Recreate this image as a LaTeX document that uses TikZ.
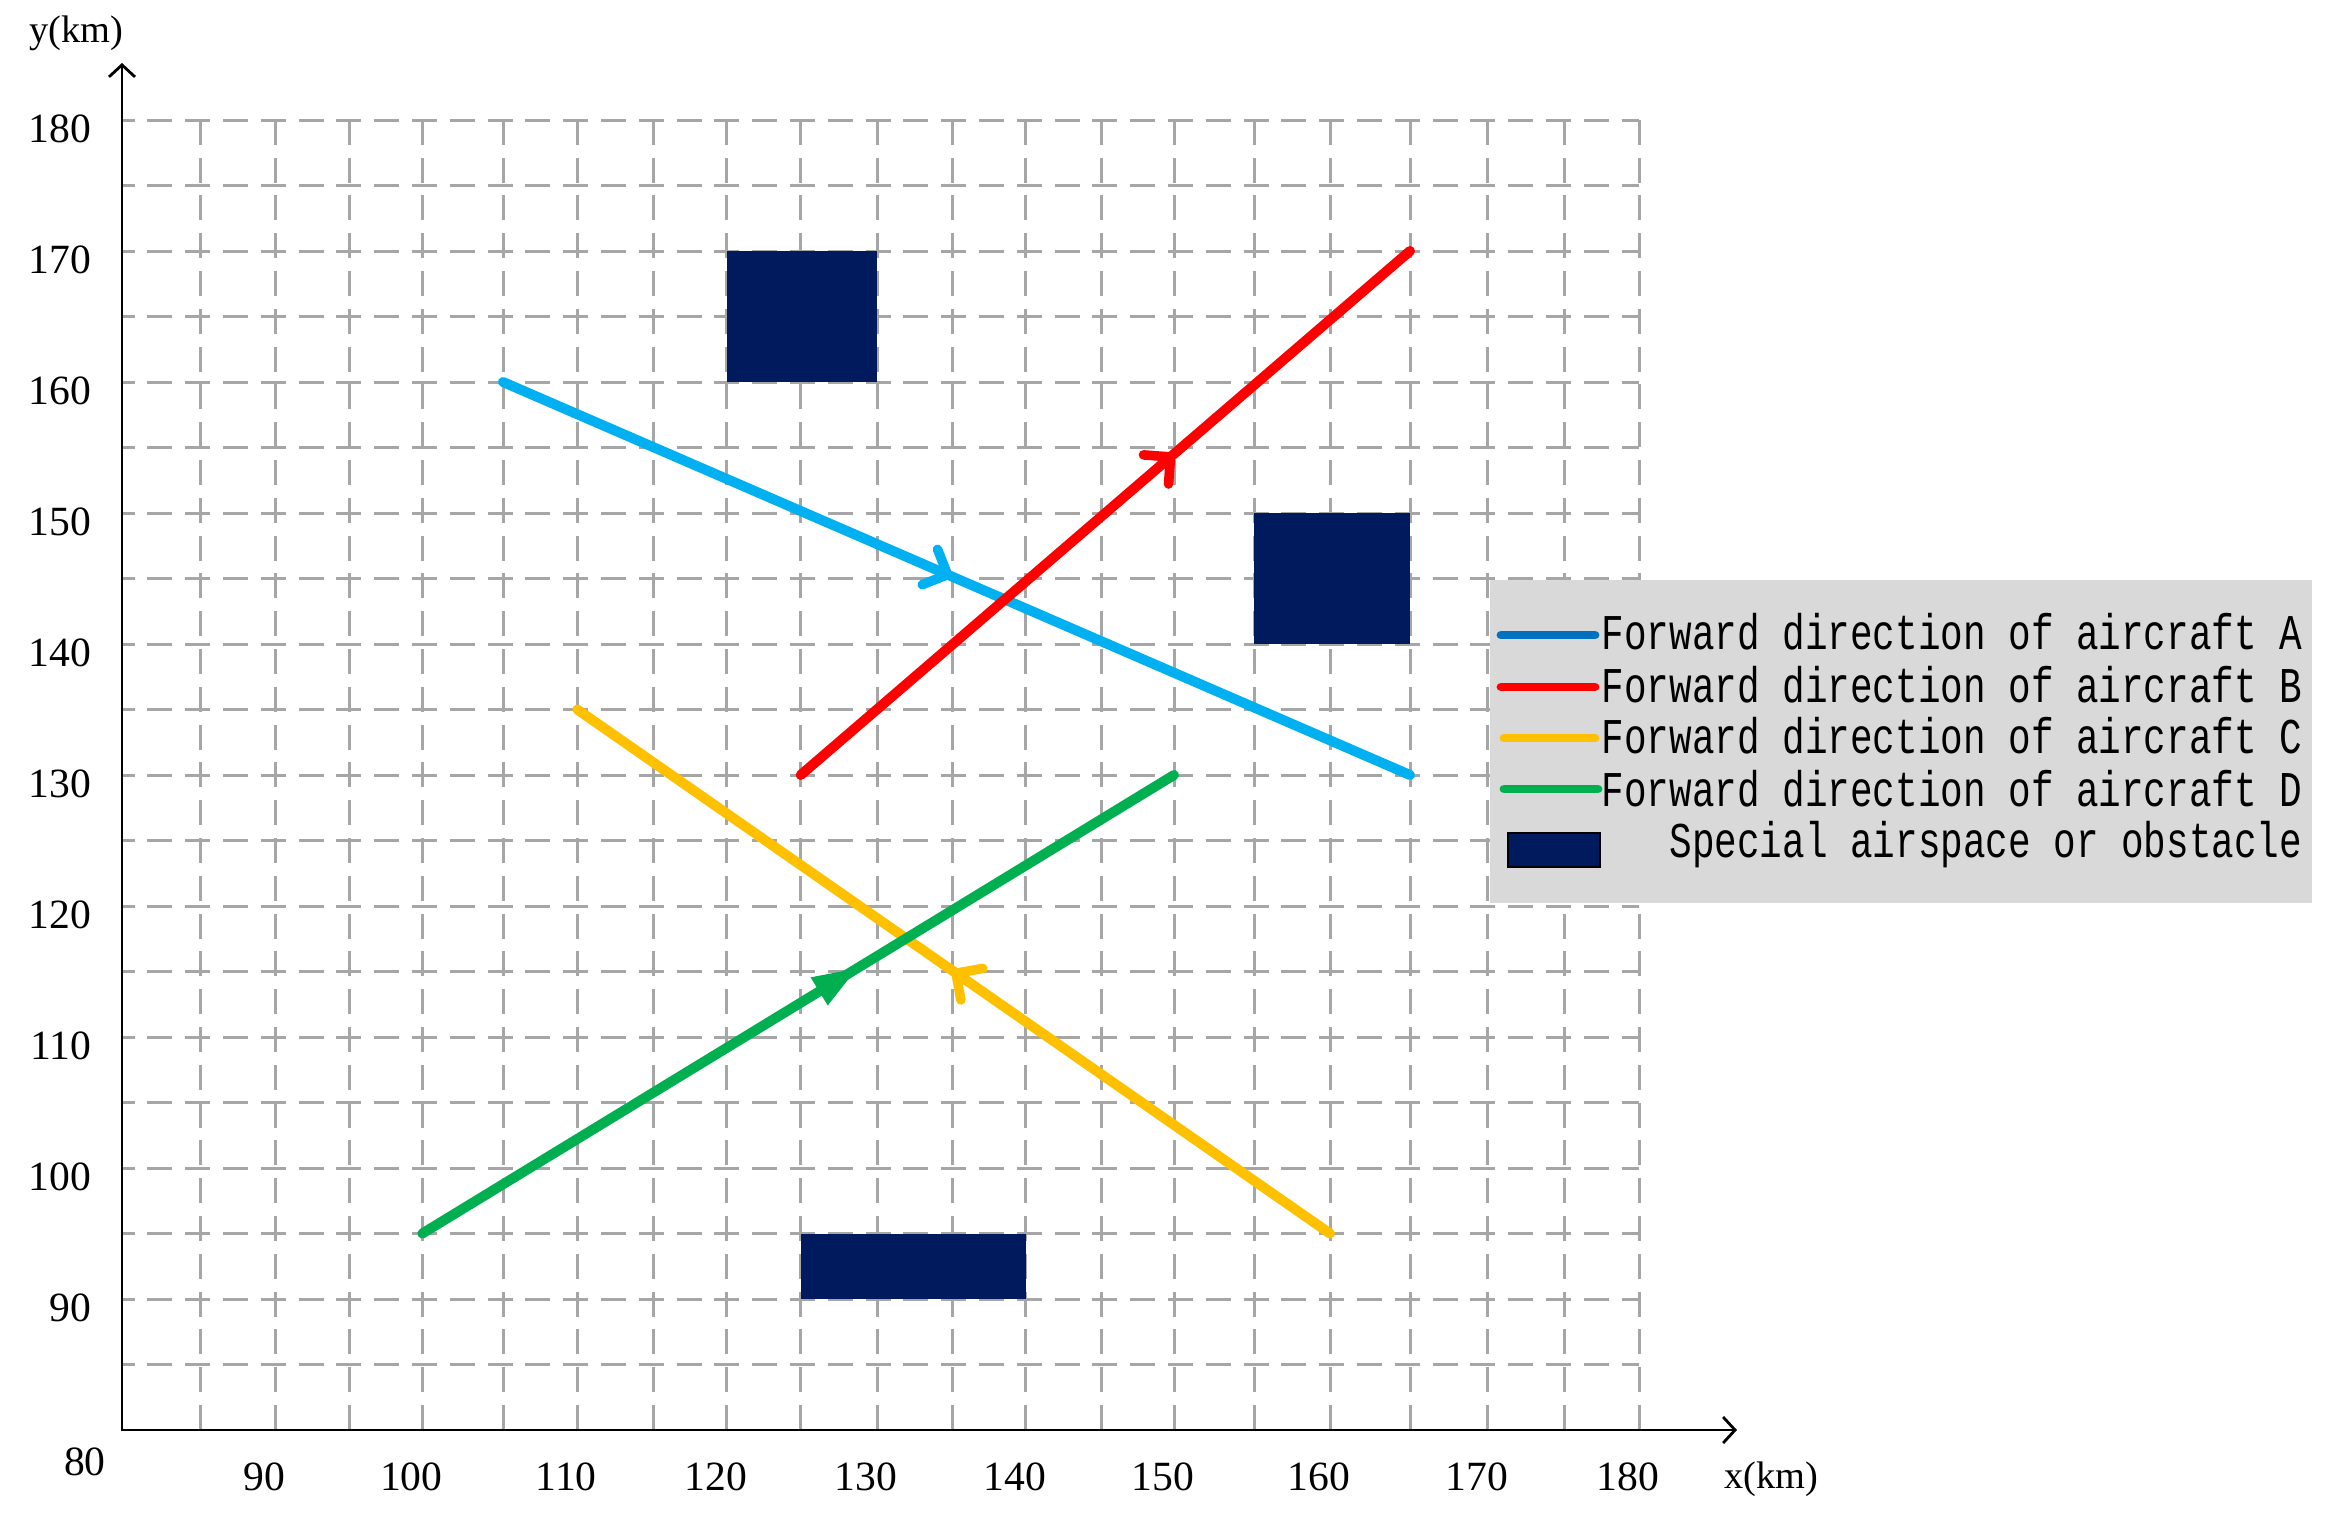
\documentclass[tikz,border=0pt]{standalone}
\usepackage{fontspec}
\setmainfont{Liberation Serif}
\newfontfamily\legfont[FakeStretch=0.753]{Liberation Mono}
\usetikzlibrary{arrows.meta,decorations.markings}
\definecolor{gridgray}{HTML}{A6A6A6}
\definecolor{acA}{HTML}{00B0F0}
\definecolor{acAleg}{HTML}{0070C0}
\definecolor{acB}{HTML}{FF0000}
\definecolor{acC}{HTML}{FFC000}
\definecolor{acD}{HTML}{00B050}
\definecolor{obst}{HTML}{001A5E}
\definecolor{legbg}{HTML}{D9D9D9}
\begin{document}
\begin{tikzpicture}[x=0.25pt,y=-0.25pt,
  hgrid/.style={draw=gridgray, line width=0.75pt, dash pattern=on 6.25pt off 3.2pt, dash phase=3.125pt},
  vgrid/.style={draw=gridgray, line width=0.75pt, dash pattern=on 6.25pt off 3.2pt},
  axisline/.style={draw=black, line width=0.7pt},
  route/.style={line width=2.5pt, line cap=round},
  legline/.style={line width=2.2pt, line cap=round},
  ticklab/.style={font=\fontsize{10.4pt}{12pt}\selectfont, inner sep=0pt},
  axtitle/.style={font=\fontsize{9.6pt}{11pt}\selectfont, inner sep=0pt},
  legtext/.style={font=\legfont\fontsize{12.5pt}{14pt}\selectfont, inner sep=0pt},
  barbat/.style={postaction={decorate, decoration={markings, mark=at position #1 with {\arrow[line width=2.4pt]{Straight Barb[round,length=4.8pt,width=9.6pt]}}}}},
  triat/.style={postaction={decorate, decoration={markings, mark=at position #1 with {\arrow[line width=0.5pt]{Triangle[length=11pt,width=8.1pt]}}}}}
]
\useasboundingbox (0,0) rectangle (2328,1524);
% grid positions (x positions follow the reference's slightly uneven grid)
\coordinate (gx80) at (122,1430);
\foreach \u/\p in {85/200, 90/275.7, 95/349, 100/422.3, 105/503, 110/577.3,
  115/653.3, 120/726.7, 125/800.7, 130/877, 135/952.3, 140/1025.7, 145/1101.7,
  150/1174, 155/1254, 160/1330, 165/1410, 170/1487.7, 175/1564, 180/1639}
  \coordinate (gx\u) at (\p,1430);
\foreach \v in {80,85,...,180}
  \coordinate (gy\v) at (122,{1430-(\v-80)*13.1});
% grid
\foreach \v in {85,90,...,180} \draw[hgrid] (gy\v) -- (gx180 |- gy\v);
\foreach \u in {85,90,...,180} \draw[vgrid] (gx\u) -- (gx\u |- gy180);
% obstacles
\fill[obst] (gx120 |- gy160) rectangle (gx130 |- gy170);
\fill[obst] (gx155 |- gy140) rectangle (gx165 |- gy150);
\fill[obst] (gx125 |- gy90) rectangle (gx140 |- gy95);
% routes
\coordinate (A1) at (gx105 |- gy160); \coordinate (A2) at (gx165 |- gy130);
\coordinate (B1) at (gx125 |- gy130); \coordinate (B2) at (gx165 |- gy170);
\coordinate (C1) at (gx160 |- gy95);  \coordinate (C2) at (gx110 |- gy135);
\coordinate (D1) at (gx100 |- gy95);  \coordinate (D2) at (gx150 |- gy130);
\draw[route, acA, barbat=0.495] (A1) -- (A2);
\draw[route, acB, barbat=0.613] (B1) -- (B2);
\draw[route, acC, barbat=0.502] (C1) -- (C2);
\draw[route, acD, triat=0.578] (D1) -- (D2);
% axes
\coordinate (O) at (122,1430);
\coordinate (ytop) at (122,63);
\coordinate (xend) at (1737,1430);
\draw[axisline, {Straight Barb[length=3pt,width=6.5pt]}-{Straight Barb[length=3pt,width=6.5pt]}] (ytop) -- (O) -- (xend);
% tick labels
\foreach \v in {90,100,...,180}
  \node[ticklab, anchor=east, yshift=-2.25pt] (yl\v) at ([xshift=-7.5pt]gy\v) {\v};
\foreach \u in {90,100,...,180}
  \node[ticklab, xshift=-2.75pt, yshift=-11.75pt] (xl\u) at (gx\u) {\u};
\node[ticklab] (l80) at (85,1462) {80};
\node[axtitle] (ytitle) at (76,33) {y(km)};
\node[axtitle] (xtitle) at (1771,1479) {x(km)};
% legend
\fill[legbg] (1490,580) rectangle (2312,903);
\coordinate (la1) at (1501,635); \coordinate (la2) at (1595,635);
\coordinate (lb1) at (1501,687); \coordinate (lb2) at (1595,687);
\coordinate (lc1) at (1504,738); \coordinate (lc2) at (1595,738);
\coordinate (ld1) at (1504,789); \coordinate (ld2) at (1598,789);
\draw[legline, acAleg] (la1) -- (la2);
\draw[legline, acB] (lb1) -- (lb2);
\draw[legline, acC] (lc1) -- (lc2);
\draw[legline, acD] (ld1) -- (ld2);
\node[legtext, anchor=base west] (legA) at (1601,649) {Forward direction of aircraft A};
\node[legtext, anchor=base west] (legB) at (1601,702) {Forward direction of aircraft B};
\node[legtext, anchor=base west] (legC) at (1601,753) {Forward direction of aircraft C};
\node[legtext, anchor=base west] (legD) at (1601,806) {Forward direction of aircraft D};
\coordinate (spY) at (0,857);
\node[legtext, anchor=base east] (legS) at (legA.base east |- spY) {Special airspace or obstacle};
\filldraw[fill=obst, draw=black, line width=0.5pt] (1508,833) rectangle (1600,867);
\end{tikzpicture}
\end{document}
